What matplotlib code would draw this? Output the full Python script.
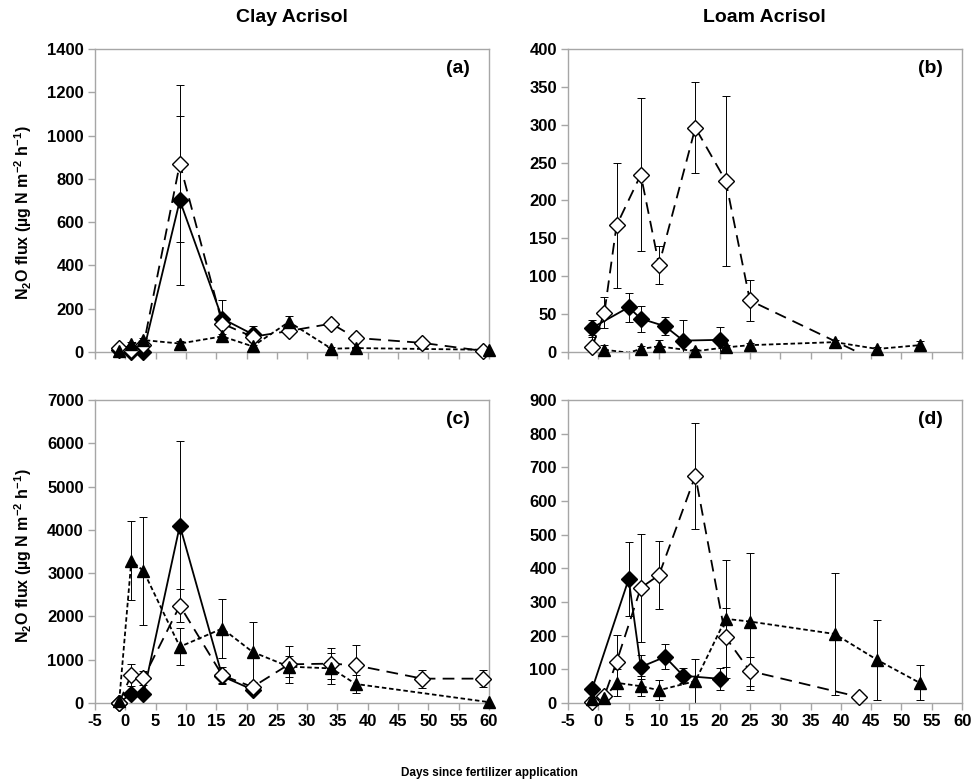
import matplotlib
matplotlib.use("Agg")
import matplotlib.pyplot as plt
import numpy as np

plt.rcParams['font.family'] = ['Liberation Sans', 'DejaVu Sans']
plt.rcParams['font.weight'] = 'bold'
plt.rcParams['mathtext.default'] = 'regular'
plt.rcParams['axes.unicode_minus'] = False

# ---- data ----
# (a) Clay Acrisol, top
a_fd_x = [-1, 1, 3, 9, 16, 21]
a_fd_y = [10, 2, 2, 700, 154, 82]
a_fd_e = [5, 5, 5, 390, 88, 38]
a_od_x = [-1, 1, 3, 9, 16, 21, 27, 34, 38, 49, 59]
a_od_y = [20, 10, 30, 870, 131, 70, 97, 131, 65, 42, 5]
a_od_e = [10, 5, 10, 362, 20, 15, 15, 15, 10, 12, 5]
a_tr_x = [-1, 1, 3, 9, 16, 21, 27, 34, 38, 60]
a_tr_y = [5, 35, 55, 39, 72, 26, 139, 15, 18, 10]
a_tr_e = [3, 10, 10, 12, 10, 8, 26, 6, 6, 3]

# (b) Loam Acrisol, top
b_fd_x = [-1, 5, 7, 11, 14, 20]
b_fd_y = [32, 59, 44, 34, 15, 16]
b_fd_e = [10, 19, 17, 12, 27, 17]
b_od_x = [-1, 1, 3, 7, 10, 16, 21, 25, 43]
b_od_y = [7, 52, 167, 234, 115, 296, 226, 68, -1]
b_od_e = [13, 20, 82, 101, 25, 60, 112, 27, 0]
b_tr_x = [1, 5, 7, 10, 16, 21, 25, 39, 46, 53]
b_tr_y = [3, -1, 4, 7.5, 1, 6, 9, 13, 4, 9]
b_tr_e = [6, 0, 4, 8, 3, 3, 3, 3, 3, 5]

# (c) Clay Acrisol, bottom
c_fd_x = [-1, 1, 3, 9, 16, 21]
c_fd_y = [10, 216, 216, 4100, 617, 308]
c_fd_e = [20, 40, 40, 1960, 150, 100]
c_od_x = [-1, 1, 3, 9, 16, 21, 27, 34, 38, 49, 59]
c_od_y = [10, 655, 578, 2250, 640, 370, 894, 910, 871, 563, 563]
c_od_e = [20, 255, 170, 390, 200, 100, 430, 360, 470, 210, 190]
c_tr_x = [-1, 1, 3, 9, 16, 21, 27, 34, 38, 60]
c_tr_y = [50, 3290, 3050, 1300, 1720, 1180, 840, 800, 440, 20]
c_tr_e = [20, 910, 1250, 430, 680, 700, 250, 350, 200, 10]

# (d) Loam Acrisol, bottom
d_fd_x = [-1, 5, 7, 11, 14, 20]
d_fd_y = [43, 368, 107, 137, 81, 72]
d_fd_e = [10, 110, 35, 37, 22, 33]
d_od_x = [-1, 1, 3, 7, 10, 16, 21, 25, 43]
d_od_y = [3, 21, 122, 342, 380, 675, 195, 95, 18]
d_od_e = [5, 10, 80, 160, 100, 157, 87, 43, 5]
d_tr_x = [-1, 1, 3, 7, 10, 16, 21, 25, 39, 46, 53]
d_tr_y = [12, 14, 60, 50, 38, 65, 250, 242, 205, 128, 60]
d_tr_e = [5, 5, 40, 30, 30, 65, 175, 203, 180, 118, 52]

panels = [
    ("(a)", 1400, 200, (a_fd_x, a_fd_y, a_fd_e), (a_od_x, a_od_y, a_od_e), (a_tr_x, a_tr_y, a_tr_e)),
    ("(b)", 400, 50, (b_fd_x, b_fd_y, b_fd_e), (b_od_x, b_od_y, b_od_e), (b_tr_x, b_tr_y, b_tr_e)),
    ("(c)", 7000, 1000, (c_fd_x, c_fd_y, c_fd_e), (c_od_x, c_od_y, c_od_e), (c_tr_x, c_tr_y, c_tr_e)),
    ("(d)", 900, 100, (d_fd_x, d_fd_y, d_fd_e), (d_od_x, d_od_y, d_od_e), (d_tr_x, d_tr_y, d_tr_e)),
]

xticks = np.arange(-5, 61, 5)
gray = '#a6a6a6'

fig = plt.figure(figsize=(9.73, 7.82), dpi=100)
boxes = [(0.0976, 0.5499), (0.5838, 0.5499), (0.0976, 0.1010), (0.5838, 0.1010)]

styles = [
    dict(ls='-', marker='D', mfc='black', dashes=None),
    dict(ls='--', marker='D', mfc='white', dashes=(6.5, 4)),
    dict(ls='--', marker='^', mfc='black', dashes=(2.5, 1.5)),
]

for i, (lab, ymax, ystep, *series) in enumerate(panels):
    ax = fig.add_axes([boxes[i][0], boxes[i][1], 0.405, 0.3875])
    for (x, y, e), st in zip(series, styles):
        x = np.array(x); y = np.array(y, dtype=float); e = np.array(e, dtype=float)
        ax.errorbar(x, y, yerr=e, fmt='none', ecolor='black', elinewidth=0.7,
                    capsize=3, capthick=0.7, zorder=2)
        line, = ax.plot(x, y, color='black', lw=1.3, ls=st['ls'], zorder=3)
        if st['dashes'] is not None:
            line.set_dashes(st['dashes'])
        keep = y >= 0
        ms = 8.5 if st['marker'] == '^' else 8
        ax.plot(x[keep], y[keep], ls='none', marker=st['marker'], ms=ms,
                mfc=st['mfc'], mec='black', mew=1.0, clip_on=False, zorder=4)
    ax.set_xlim(-5, 60)
    ax.set_ylim(0, ymax)
    ax.set_xticks(xticks)
    ax.set_yticks(np.arange(0, ymax + 1, ystep))
    for s in ax.spines.values():
        s.set_color(gray)
        s.set_linewidth(1.0)
    ax.tick_params(axis='both', direction='out', length=5, color=gray, width=1.0,
                   labelsize=12, pad=3)
    for t in ax.get_xticklabels() + ax.get_yticklabels():
        t.set_fontweight('bold')
    if i < 2:
        ax.tick_params(axis='x', labelbottom=False)
    ax.text(0.92, 0.935, lab, transform=ax.transAxes, ha='center', va='center',
            fontsize=14, fontweight='bold')

fig.text(0.300, 0.978, "Clay Acrisol", ha='center', va='center', fontsize=14, fontweight='bold')
fig.text(0.786, 0.978, "Loam Acrisol", ha='center', va='center', fontsize=14, fontweight='bold')
ylab = r'N$_2$O flux (µg N m$^{-2}$ h$^{-1}$)'
fig.text(0.024, 0.728, ylab, rotation=90, ha='center', va='center', fontsize=11.5, fontweight='bold')
fig.text(0.024, 0.290, ylab, rotation=90, ha='center', va='center', fontsize=11.5, fontweight='bold')
fig.text(0.503, 0.012, "Days since fertilizer application", ha='center', va='center',
         fontsize=8.5, fontweight='bold')

fig.savefig("out.png", dpi=100)
